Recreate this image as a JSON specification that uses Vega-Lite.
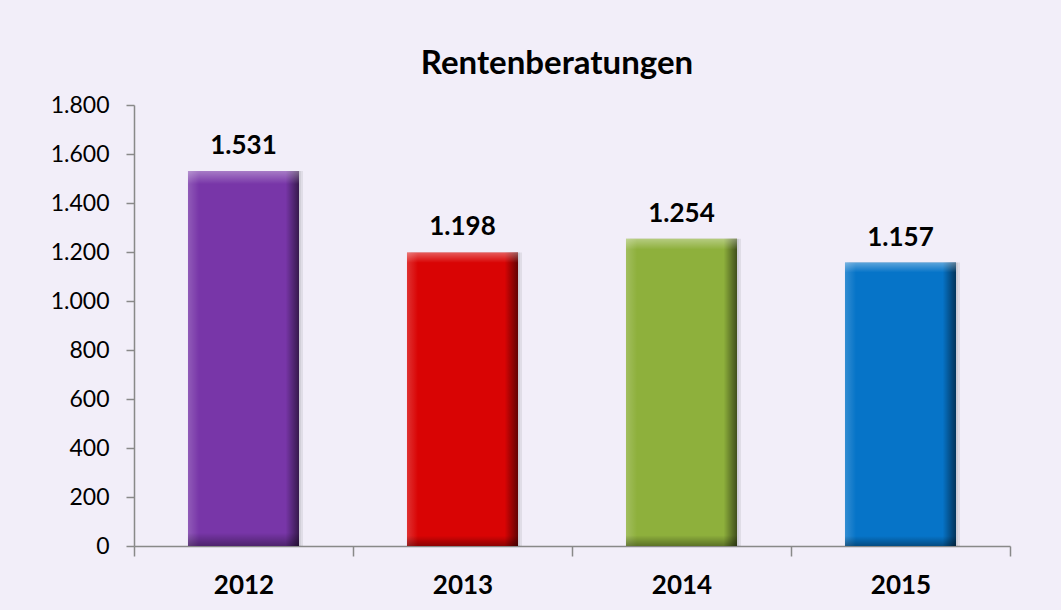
{
  "$schema": "https://vega.github.io/schema/vega-lite/v6.json",
  "autosize": "none",
  "width": 876,
  "height": 441,
  "padding": {"left": 134, "top": 105, "right": 51, "bottom": 64},
  "background": "#f2eef9",
  "config": {
    "locale": {"number": {"decimal": ",", "thousands": ".", "grouping": [3], "currency": ["", " €"]}},
    "view": {"stroke": null},
    "font": "Lato"
  },
  "title": {
    "text": "Rentenberatungen",
    "anchor": "middle",
    "font": "Lato",
    "fontSize": 33,
    "fontWeight": "bold",
    "color": "#000000",
    "dx": -15,
    "offset": 13
  },
  "data": {
    "values": [
      {"year": "2012", "value": 1531},
      {"year": "2013", "value": 1198},
      {"year": "2014", "value": 1254},
      {"year": "2015", "value": 1157}
    ]
  },
  "encoding": {
    "x": {
      "field": "year",
      "type": "nominal",
      "scale": {"paddingInner": 0, "paddingOuter": 0},
      "axis": {
        "title": null,
        "labelAngle": 0,
        "labelFont": "Lato",
        "labelFontSize": 26,
        "labelFontWeight": "bold",
        "labelColor": "#000000",
        "labelBaseline": "top",
        "labelPadding": 16,
        "tickBand": "extent",
        "tickSize": 10,
        "tickColor": "#898989",
        "tickWidth": 1.5,
        "domainColor": "#898989",
        "domainWidth": 1.5
      }
    },
    "y": {
      "field": "value",
      "type": "quantitative",
      "scale": {"domain": [0, 1800], "nice": false},
      "axis": {
        "title": null,
        "values": [0, 200, 400, 600, 800, 1000, 1200, 1400, 1600, 1800],
        "format": ",d",
        "grid": false,
        "labelFont": "Lato",
        "labelFontSize": 23,
        "labelColor": "#000000",
        "labelPadding": 17,
        "tickSize": 8,
        "tickColor": "#898989",
        "tickWidth": 1.5,
        "domainColor": "#898989",
        "domainWidth": 1.5
      }
    }
  },
  "layer": [
    {
      "mark": {"type": "bar", "width": {"band": 0.507}, "xOffset": 4, "fill": "#000000", "opacity": 0.07}
    },
    {
      "mark": {"type": "bar", "width": {"band": 0.507}, "xOffset": 2, "fill": "#000000", "opacity": 0.06}
    },
    {
      "mark": {"type": "bar", "width": {"band": 0.507}},
      "encoding": {
        "color": {
          "field": "year",
          "type": "nominal",
          "scale": {"domain": ["2012", "2013", "2014", "2015"], "range": ["#7836a8", "#d90404", "#8eb03c", "#0674c8"]},
          "legend": null
        }
      }
    },
    {
      "mark": {
        "type": "bar",
        "width": {"band": 0.507},
        "fill": {
          "gradient": "linear", "x1": 0, "y1": 0, "x2": 1, "y2": 0,
          "stops": [
            {"offset": 0, "color": "rgba(255,255,255,0.18)"},
            {"offset": 0.1, "color": "rgba(255,255,255,0)"},
            {"offset": 0.88, "color": "rgba(0,0,0,0)"},
            {"offset": 1, "color": "rgba(0,0,0,0.55)"}
          ]
        }
      }
    },
    {
      "mark": {
        "type": "bar",
        "width": {"band": 0.507},
        "fill": {
          "gradient": "linear", "x1": 0, "y1": 0, "x2": 0, "y2": 1,
          "stops": [
            {"offset": 0, "color": "rgba(255,255,255,0.35)"},
            {"offset": 0.035, "color": "rgba(255,255,255,0)"},
            {"offset": 0.965, "color": "rgba(0,0,0,0)"},
            {"offset": 1, "color": "rgba(0,0,0,0.35)"}
          ]
        }
      }
    },
    {
      "mark": {"type": "text", "dy": -17, "baseline": "alphabetic", "font": "Lato", "fontSize": 26, "fontWeight": "bold", "color": "#000000"},
      "encoding": {
        "text": {"field": "value", "type": "quantitative", "format": ",d"}
      }
    }
  ]
}
